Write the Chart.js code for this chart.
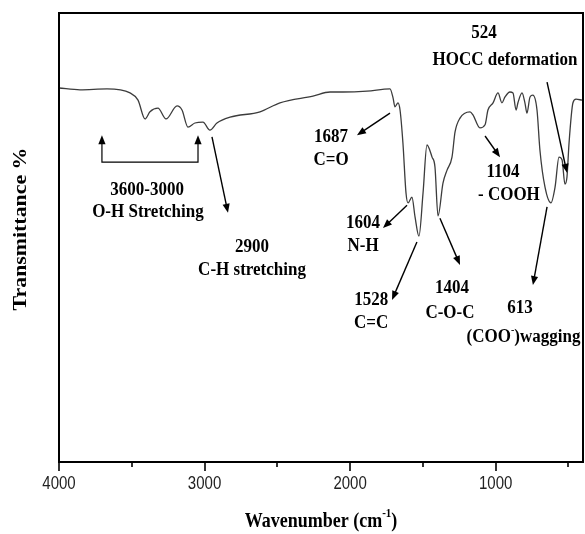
<!DOCTYPE html>
<html><head><meta charset="utf-8">
<script src="https://cdn.jsdelivr.net/npm/chart.js@4"></script>
<style>html,body{margin:0;padding:0;background:#fff;}canvas{display:block;}</style>
</head><body>
<canvas id="c" width="585" height="534"></canvas>
<script>
// ---- data (wavenumber in cm-1, transmittance in arbitrary %) ----
const wavenumber = [4000,3856,3670,3512,3457,3409,3375,3320,3265,3189,3155,3114,3066,3011,2963,2915,2825,2619,2482,2255,2138,2049,1884,1726,1705,1692,1671,1657,1637,1616,1602,1575,1554,1527,1499,1472,1437,1417,1396,1362,1334,1300,1279,1245,1176,1156,1108,1073,1053,1018,984,957,936,902,881,860,847,819,799,785,764,744,716,696,661,620,592,565,544,524,510,496,469,448,407];
const transmittance = [83.3,82.9,83.1,82.2,80.6,76.4,78.0,78.8,76.4,79.3,78.4,74.6,75.5,75.7,73.9,75.5,76.8,78.0,80.0,81.5,82.4,82.4,82.6,83.1,81.1,79.1,80.0,78.4,71.0,59.9,57.7,59.0,54.6,50.3,59.9,70.6,67.9,65.7,54.8,62.1,65.0,67.9,73.5,76.6,78.0,77.3,74.4,75.1,78.4,80.0,82.2,80.0,81.3,82.4,82.2,78.4,80.0,82.2,80.0,77.7,81.3,81.7,78.4,69.5,61.2,57.7,61.2,67.9,67.3,61.9,63.5,71.0,80.0,80.8,80.6];
const majorTicks = [4000,3000,2000,1000];
const minorTicks = [3500,2500,1500,500];
const xTitleMain = 'Wavenumber (cm';
const xTitleSup = '-1';
const yTitle = 'Transmittance %';

// annotation labels (data coordinates: wavenumber, transmittance)
const labelTexts = ['524','HOCC deformation','1687','C=O','1104','- COOH','1604','N-H','1528','C=C','1404','C-O-C','613','(COO|-|)wagging','3600-3000','O-H Stretching','2900','C-H stretching'];
const labelW = [1080,936,2131,2131,950,909,1911,1911,1855,1855,1300,1314,833,1200,3395,3389,2674,2674];
const labelT = [95.5,89.5,72.4,67.3,64.6,59.5,53.2,48.1,36.1,31.0,38.8,33.2,34.3,27.8,60.6,55.7,47.9,42.8];
const labelAlign = ['center','center','center','center','center','center','center','center','center','center','center','center','center','left','center','center','center','center'];
// arrows: from (w1,t1) to (w2,t2), head at the end
const arrowW1 = [2949,1726,1609,1541,1383,1073,647,647];
const arrowT1 = [72.4,77.7,57.2,49.0,54.3,72.6,56.8,84.6];
const arrowW2 = [2839,1953,1774,1712,1245,970,744,510];
const arrowT2 = [55.5,72.8,52.1,36.1,43.9,67.9,39.4,64.4];
// O-H bracket
const bracketW = [3705,3045];
const bracketT = [72.8,66.8];

const SERIF = '"Liberation Serif","Times New Roman",serif';
const SANS = '"Liberation Sans",Arial,sans-serif';

function stretchedText(ctx, s, x, y, font, align, sy) {
  ctx.save();
  ctx.translate(x, y);
  ctx.scale(1, sy);
  ctx.font = font;
  ctx.textAlign = align;
  ctx.textBaseline = 'middle';
  ctx.fillText(s, 0, 0);
  ctx.restore();
}

function richText(ctx, s, x, y, size, align, sy) {
  // parts separated by '|': normal|sup|normal
  const parts = s.split('|');
  ctx.save();
  ctx.translate(x, y);
  ctx.scale(1, sy);
  ctx.textBaseline = 'middle';
  ctx.textAlign = 'left';
  const fMain = 'bold ' + size + 'px ' + SERIF;
  const fSup = 'bold ' + Math.round(size * 0.6) + 'px ' + SERIF;
  let widths = parts.map((p, i) => { ctx.font = i % 2 ? fSup : fMain; return ctx.measureText(p).width; });
  const total = widths.reduce((a, b) => a + b, 0);
  let cx = align === 'center' ? -total / 2 : (align === 'right' ? -total : 0);
  parts.forEach((p, i) => {
    ctx.font = i % 2 ? fSup : fMain;
    ctx.fillText(p, cx, i % 2 ? -size * 0.38 : 0);
    cx += widths[i];
  });
  ctx.restore();
}

function arrowHead(ctx, x1, y1, x2, y2) {
  const a = Math.atan2(y2 - y1, x2 - x1);
  const L = 9, W = 3.6;
  ctx.beginPath();
  ctx.moveTo(x2, y2);
  ctx.lineTo(x2 - L * Math.cos(a) + W * Math.sin(a), y2 - L * Math.sin(a) - W * Math.cos(a));
  ctx.lineTo(x2 - L * Math.cos(a) - W * Math.sin(a), y2 - L * Math.sin(a) + W * Math.cos(a));
  ctx.closePath();
  ctx.fill();
}

const decor = {
  id: 'decor',
  afterDraw(chart) {
    const ctx = chart.ctx, xs = chart.scales.x, ys = chart.scales.y, ca = chart.chartArea;
    ctx.save();
    ctx.fillStyle = '#000';
    ctx.strokeStyle = '#000';
    // frame
    ctx.lineWidth = 2;
    ctx.strokeRect(ca.left, ca.top, ca.right - ca.left, ca.bottom - ca.top);
    // tick marks
    ctx.lineWidth = 1.6;
    majorTicks.forEach(v => { const p = Math.round(xs.getPixelForValue(v)); ctx.beginPath(); ctx.moveTo(p, ca.bottom); ctx.lineTo(p, ca.bottom + 9); ctx.stroke(); });
    minorTicks.forEach(v => { const p = Math.round(xs.getPixelForValue(v)); ctx.beginPath(); ctx.moveTo(p, ca.bottom); ctx.lineTo(p, ca.bottom + 5); ctx.stroke(); });
    // tick labels
    ctx.fillStyle = '#222';
    majorTicks.forEach(v => stretchedText(ctx, String(v), xs.getPixelForValue(v), ca.bottom + 22, '15px ' + SANS, 'center', 1.25));
    ctx.fillStyle = '#000';
    // x title
    richText(ctx, xTitleMain + '|' + xTitleSup + '|)', (ca.left + ca.right) / 2, ca.bottom + 60, 18, 'center', 1.15);
    // y title
    ctx.save();
    ctx.translate(21, 229);
    ctx.scale(1, 1.15);
    ctx.rotate(-Math.PI / 2);
    ctx.font = 'bold 19px ' + SERIF;
    ctx.textAlign = 'center';
    ctx.textBaseline = 'middle';
    ctx.fillText(yTitle, 0, 0);
    ctx.restore();
    // labels
    labelTexts.forEach((s, i) => {
      richText(ctx, s, xs.getPixelForValue(labelW[i]), ys.getPixelForValue(labelT[i]), 17, labelAlign[i], 1.1);
    });
    // arrows
    ctx.lineWidth = 1.4;
    arrowW1.forEach((w, i) => {
      const x1 = xs.getPixelForValue(w), y1 = ys.getPixelForValue(arrowT1[i]);
      const x2 = xs.getPixelForValue(arrowW2[i]), y2 = ys.getPixelForValue(arrowT2[i]);
      const a = Math.atan2(y2 - y1, x2 - x1);
      ctx.beginPath(); ctx.moveTo(x1, y1); ctx.lineTo(x2 - 6 * Math.cos(a), y2 - 6 * Math.sin(a)); ctx.stroke();
      arrowHead(ctx, x1, y1, x2, y2);
    });
    // bracket
    const bx1 = xs.getPixelForValue(bracketW[0]), bx2 = xs.getPixelForValue(bracketW[1]);
    const by1 = ys.getPixelForValue(bracketT[0]), by2 = ys.getPixelForValue(bracketT[1]);
    ctx.lineWidth = 1.2;
    ctx.beginPath();
    ctx.moveTo(bx1, by1 + 6); ctx.lineTo(bx1, by2); ctx.lineTo(bx2, by2); ctx.lineTo(bx2, by1 + 6);
    ctx.stroke();
    arrowHead(ctx, bx1, by2, bx1, by1);
    arrowHead(ctx, bx2, by2, bx2, by1);
    ctx.restore();
  }
};

new Chart(document.getElementById('c'), {
  type: 'line',
  data: {
    datasets: [{
      data: wavenumber.map((w, i) => ({ x: w, y: transmittance[i] })),
      borderColor: '#3c3c3c',
      borderWidth: 1.3,
      pointRadius: 0,
      cubicInterpolationMode: 'monotone',
      fill: false
    }]
  },
  options: {
    responsive: false,
    devicePixelRatio: 1,
    animation: false,
    layout: { padding: { left: 59, top: 13, right: 2, bottom: 72 } },
    plugins: { legend: { display: false }, tooltip: { enabled: false } },
    scales: {
      x: { type: 'linear', reverse: true, min: 400, max: 4000, display: false },
      y: { type: 'linear', min: 0, max: 100, display: false }
    }
  },
  plugins: [decor]
});
</script>
</body></html>
